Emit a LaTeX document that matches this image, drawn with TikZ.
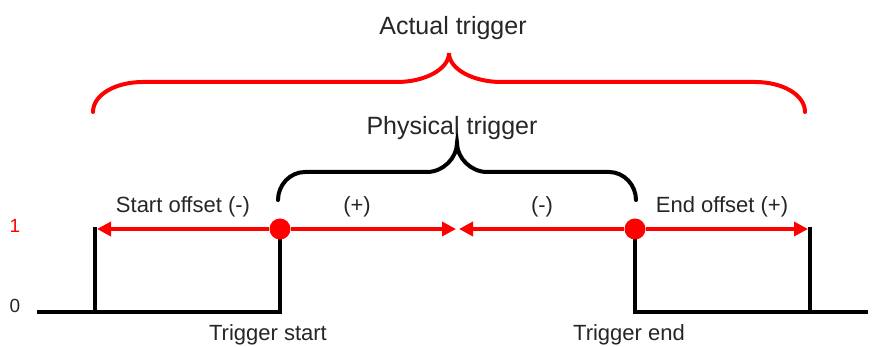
\documentclass[tikz,border=0pt]{standalone}
\usepackage{fontspec}
\setmainfont{Liberation Sans}
\usetikzlibrary{arrows.meta}

\begin{document}
\begin{tikzpicture}[
    x=0.5pt, y=0.5pt,
    sig/.style={line width=2pt, black},
    offs/.style={line width=2pt, red, -{Triangle[length=7pt,width=7pt]}},
    dot/.style={circle, fill=red, inner sep=0pt, minimum size=10.5pt},
    lbl/.style={font=\fontsize{11}{13}\selectfont, text=black!85, anchor=base, inner sep=0pt},
    ttl/.style={font=\fontsize{12.5}{15}\selectfont, text=black!85, anchor=base, inner sep=0pt},
    lvl/.style={font=\fontsize{9.5}{11}\selectfont, anchor=base, inner sep=0pt},
    brc/.style={line width=2pt, line cap=round}
  ]
  \useasboundingbox (0,0) rectangle (874,347);
  % levels
  \node[lvl, text=red] (one) at (15,114) {1};
  \node[lvl, text=black!85] (zero) at (15,34) {0};
  % signal
  \coordinate (s0) at (37,35);
  \coordinate (as0) at (95,35);
  \coordinate (as1) at (95,120);
  \coordinate (ts0) at (280,35);
  \coordinate (ts1) at (280,118);
  \coordinate (te1) at (635,118);
  \coordinate (te0) at (635,35);
  \coordinate (ae0) at (810,35);
  \coordinate (ae1) at (810,120);
  \coordinate (s1) at (868,35);
  \draw[sig] (s0) -- (ts0) -- (ts1);
  \draw[sig] (te1) -- (te0) -- (s1);
  \draw[sig] (as0) -- (as1);
  \draw[sig] (ae0) -- (ae1);
  % offsets
  \node[dot] (ts) at (ts1) {};
  \node[dot] (te) at (te1) {};
  \coordinate (ao) at (97,118);
  \coordinate (mp) at (456,118);
  \coordinate (mm) at (459,118);
  \coordinate (eo) at (808,118);
  \draw[offs] (ts) -- (ao);
  \draw[offs] (ts) -- (mp);
  \draw[offs] (te) -- (mm);
  \draw[offs] (te) -- (eo);
  \node[lbl] (sol) at (183,134) {Start offset (-)};
  \node[lbl] (pl) at (357,134) {(+)};
  \node[lbl] (mi) at (542,134) {(-)};
  \node[lbl] (eol) at (722,134) {End offset (+)};
  \node[lbl] (tsl) at (268,6) {Trigger start};
  \node[lbl] (tel) at (629,6) {Trigger end};
  % braces
  \draw[brc, red] (93,235) .. controls (93,252) and (115,265) .. (143,265) -- (397,265)
    .. controls (425,265) and (449,278) .. (449,294)
    .. controls (449,278) and (473,265) .. (501,265) -- (755,265)
    .. controls (783,265) and (805,252) .. (805,235);
  \draw[brc] (278,147) .. controls (278,162) and (290,175) .. (305,175) -- (427,175)
    .. controls (443,175) and (457,189) .. (457,204)
    .. controls (457,189) and (471,175) .. (487,175) -- (609,175)
    .. controls (624,175) and (636,162) .. (636,147);
  \node[ttl] (act) at (453,312) {Actual trigger};
  \node[ttl] (phy) at (452,212) {Physical trigger};
\end{tikzpicture}
\end{document}
